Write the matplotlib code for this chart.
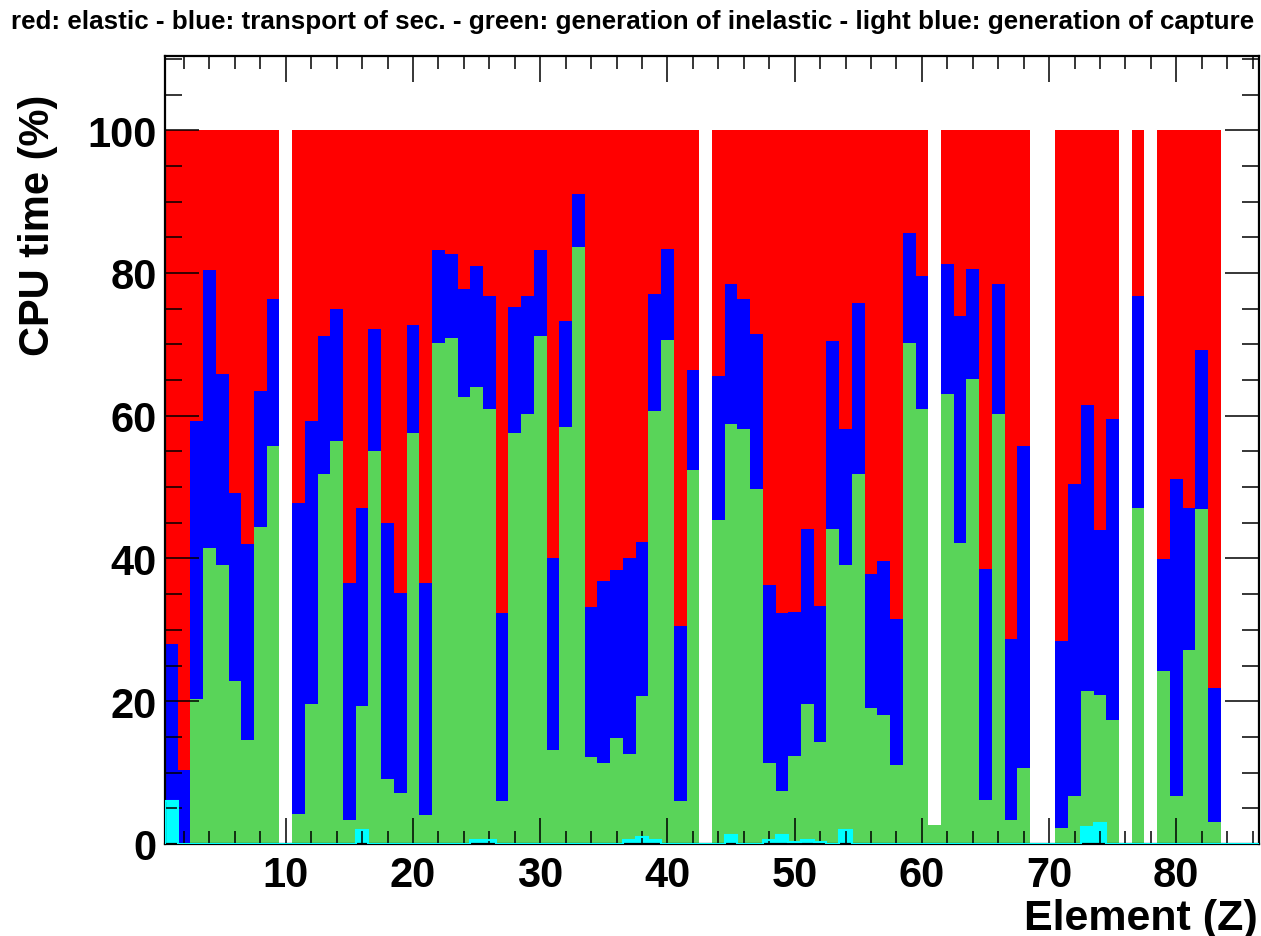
"""CPU time split per element (Z): elastic / transport / inelastic / capture."""
import matplotlib

matplotlib.use("Agg")
import matplotlib.pyplot as plt
import numpy as np
from matplotlib.ticker import MultipleLocator

# one bin per element Z = 1..86, values are the top of each overlaid histogram (%)
z = np.arange(1, 87)
empty = [10, 43, 61, 69, 70, 76, 78, 84, 85, 86]
elastic = np.array([0.0 if zz in empty else 100.0 for zz in z])
transport = np.array([
    28.0, 10.3, 59.3, 80.4, 65.8, 49.2, 42.0, 63.4, 76.3, 0.0,
    47.8, 59.3, 71.2, 74.9, 36.5, 47.1, 72.2, 45.0, 35.1, 72.7,
    36.5, 83.2, 82.7, 77.7, 81.0, 76.8, 32.3, 75.3, 76.8, 83.2,
    40.1, 73.2, 91.1, 33.2, 36.8, 38.4, 40.1, 42.3, 77.0, 83.4,
    30.6, 66.4, 0.0, 65.6, 78.4, 76.3, 71.4, 36.3, 32.3, 32.5,
    44.1, 33.4, 70.5, 58.1, 75.8, 37.8, 39.7, 31.5, 85.6, 79.6,
    0.0, 81.3, 74.0, 80.6, 38.5, 78.4, 28.7, 55.7, 0.0, 0.0,
    28.4, 50.4, 61.5, 44.0, 59.6, 0.0, 76.8, 0.0, 39.9, 51.2,
    47.1, 69.2, 21.9, 0.0, 0.0, 0.0,
])
inelastic = np.array([
    0.0, 0.0, 20.3, 41.4, 39.1, 22.9, 14.5, 44.4, 55.7, 0.0,
    4.2, 19.6, 51.9, 56.4, 3.3, 19.3, 55.0, 9.1, 7.1, 57.6,
    4.0, 70.2, 70.9, 62.6, 64.0, 60.9, 6.0, 57.6, 60.3, 71.2,
    13.1, 58.4, 83.7, 12.2, 11.3, 14.9, 12.6, 20.7, 60.7, 70.6,
    6.0, 52.4, 0.0, 45.4, 58.8, 58.1, 49.7, 11.4, 7.4, 12.3,
    19.6, 14.3, 44.1, 39.1, 51.9, 19.0, 18.1, 11.0, 70.2, 60.9,
    2.6, 63.1, 42.1, 65.1, 6.2, 60.2, 3.3, 10.7, 0.0, 0.0,
    2.2, 6.7, 21.5, 20.9, 17.4, 0.0, 47.1, 0.0, 24.2, 6.7,
    27.2, 46.9, 3.1, 0.0, 0.0, 0.0,
])
capture = np.zeros(len(z))
for zz, v in {1: 6.0, 16: 2.0, 25: 0.5, 26: 0.5, 37: 0.5, 38: 1.0, 39: 0.5,
              45: 1.2, 48: 0.6, 49: 1.2, 50: 0.3, 51: 0.5, 52: 0.3, 54: 2.0,
              73: 2.4, 74: 3.0}.items():
    capture[zz - 1] = v

plt.rcParams["font.family"] = ["Liberation Sans", "DejaVu Sans"]

fig = plt.figure(figsize=(12.61, 9.37), dpi=100)
ax = fig.add_axes([0.1308, 0.0982, 0.8676, 0.841])

for vals, col in [(elastic, "#ff0000"), (transport, "#0000ff"),
                  (inelastic, "#59d459"), (capture, "#00ffff")]:
    ax.bar(z, vals, width=1.0, color=col, linewidth=0)
# capture histogram outline along the bottom
ax.stairs(capture, np.arange(0.5, 87.5), color="#00ffff", linewidth=1.5, zorder=3)

ax.set_xlim(0.5, 86.5)
ax.set_ylim(0, 110.4)
ax.xaxis.set_major_locator(MultipleLocator(10))
ax.xaxis.set_minor_locator(MultipleLocator(2))
ax.yaxis.set_minor_locator(MultipleLocator(5))
ax.set_yticks([0, 20, 40, 60, 80, 100])
ax.tick_params(axis="both", which="both", direction="in", top=True, right=True,
               width=1.1, colors="black")
ax.tick_params(axis="x", which="major", length=19, pad=8, labelsize=30)
ax.tick_params(axis="x", which="minor", length=9.5)
ax.tick_params(axis="y", which="major", length=24.5, pad=6, labelsize=30)
ax.tick_params(axis="y", which="minor", length=12)
for lab in ax.get_xticklabels() + ax.get_yticklabels():
    lab.set_fontweight("bold")
for sp in ax.spines.values():
    sp.set_linewidth(1.6)

fig.text(0.9976, 0.008, "Element (Z)", ha="right", va="baseline",
         fontsize=31, fontweight="bold")
fig.text(0.03, 0.899, "CPU time (%)", ha="center", va="top", rotation=90,
         fontsize=30, fontweight="bold")
fig.text(0.502, 0.977, "red: elastic - blue: transport of sec. - green: generation "
         "of inelastic - light blue: generation of capture", ha="center", va="center",
         fontsize=18.7, fontweight="bold")

fig.savefig("out.png", dpi=100)
